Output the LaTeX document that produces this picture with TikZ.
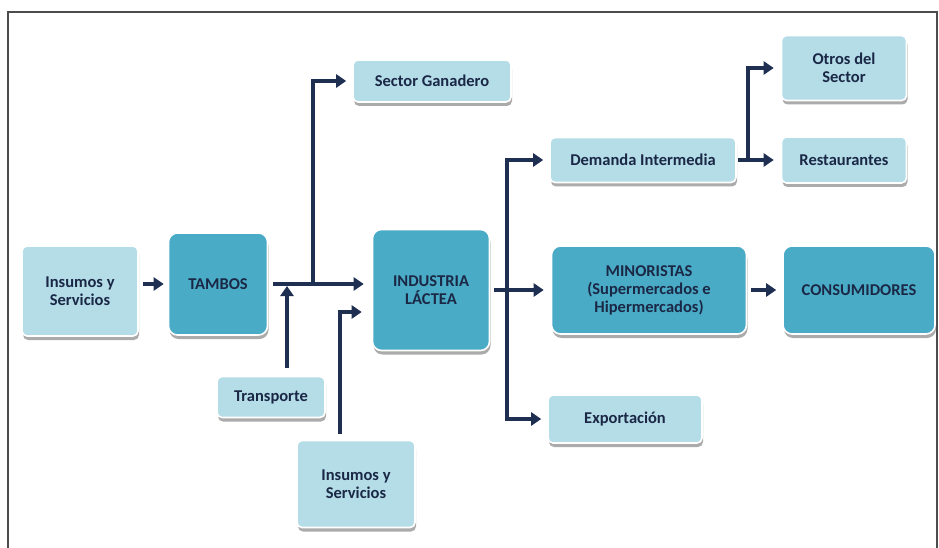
\documentclass[tikz,border=0pt]{standalone}
\usepackage{fontspec}
\setmainfont{Carlito}
\usetikzlibrary{arrows.meta,shadows}

\definecolor{cajaclara}{HTML}{B5DDE8}
\definecolor{cajaoscura}{HTML}{4AABC6}
\definecolor{texto}{HTML}{1A2846}
\definecolor{flecha}{HTML}{1F2F52}

\begin{document}
\begin{tikzpicture}[x=1pt,y=-1pt,
		caja/.style={rounded corners=5pt, draw=white, line width=1.6pt, align=center,
			text=texto, font=\fontsize{16.5}{18}\selectfont\bfseries, inner sep=2pt,
			drop shadow={shadow xshift=1pt, shadow yshift=-4pt, fill=black!55, opacity=0.6}},
		clara/.style={caja, fill=cajaclara},
		oscura/.style={caja, fill=cajaoscura, rounded corners=9pt},
		flujo/.style={draw=flecha, line width=3.4pt, -{Triangle[length=10pt,width=13pt]}}]
		\useasboundingbox (0,0) rectangle (939,548);
		% marco
		\draw [black!70, line width=1.4pt] (8,548) -- (8,12) -- (937,12) -- (937,548);

		% cajas
		\node[clara, minimum width=116, minimum height=90] (insA) at (80,291) {Insumos y\\Servicios};
		\node[oscura, minimum width=99, minimum height=102] (tambos) at (218,284) {TAMBOS};
		\node[clara, minimum width=158, minimum height=42] (ganadero) at (432,81) {Sector Ganadero};
		\node[oscura, minimum width=117, minimum height=121] (industria) at (431,290) {INDUSTRIA\\LÁCTEA};
		\node[clara, minimum width=108, minimum height=41] (transporte) at (271,397) {Transporte};
		\node[clara, minimum width=118, minimum height=87] (insB) at (356,484) {Insumos y\\Servicios};
		\node[clara, minimum width=186, minimum height=45] (demanda) at (643,160) {Demanda Intermedia};
		\node[clara, minimum width=125, minimum height=65] (otros) at (844,68) {Otros del\\Sector};
		\node[clara, minimum width=125, minimum height=46] (restaurantes) at (844,160) {Restaurantes};
		\node[oscura, minimum width=195, minimum height=88] (minoristas) at (649,290) {MINORISTAS\\(Supermercados e\\Hipermercados)};
		\node[oscura, minimum width=152, minimum height=88] (consumidores) at (859,290) {CONSUMIDORES};
		\node[clara, minimum width=154, minimum height=48] (exportacion) at (625,419) {Exportación};

		% puntos de bifurcacion
		\coordinate (jA) at (313,285);
		\coordinate (jT) at (287,285);
		\coordinate (jB) at (340,312);
		\coordinate (jC) at (507,290);
		\coordinate (jD) at (748,160);

		% flechas
		\draw[flujo, shorten <=4pt, shorten >=4pt] (insA.east |- tambos.west) -- (tambos.west);
		\draw[flujo, shorten <=5pt, shorten >=8pt] (tambos.east) -- (tambos.east -| industria.west);
		\draw[flujo, shorten >=6pt] (jA) |- (ganadero.west);
		\draw[flujo, shorten <=8pt, shorten >=1pt] (transporte.north -| jT) -- (jT);
		\draw[flujo, shorten <=6pt, shorten >=10pt] (insB.north -| jB) |- (jB -| industria.west);
		\draw[flujo, shorten <=4pt, shorten >=7pt] (industria.east) -- (minoristas.west);
		\draw[flujo, shorten >=6pt] (jC) |- (demanda.west);
		\draw[flujo, shorten >=6pt] (jC) |- (exportacion.west);
		\draw[flujo, shorten <=1pt, shorten >=7pt] (demanda.east) -- (restaurantes.west);
		\draw[flujo, shorten >=7pt] (jD) |- (otros.west);
		\draw[flujo, shorten <=4pt, shorten >=6pt] (minoristas.east) -- (consumidores.west);
	\end{tikzpicture}
\end{document}
